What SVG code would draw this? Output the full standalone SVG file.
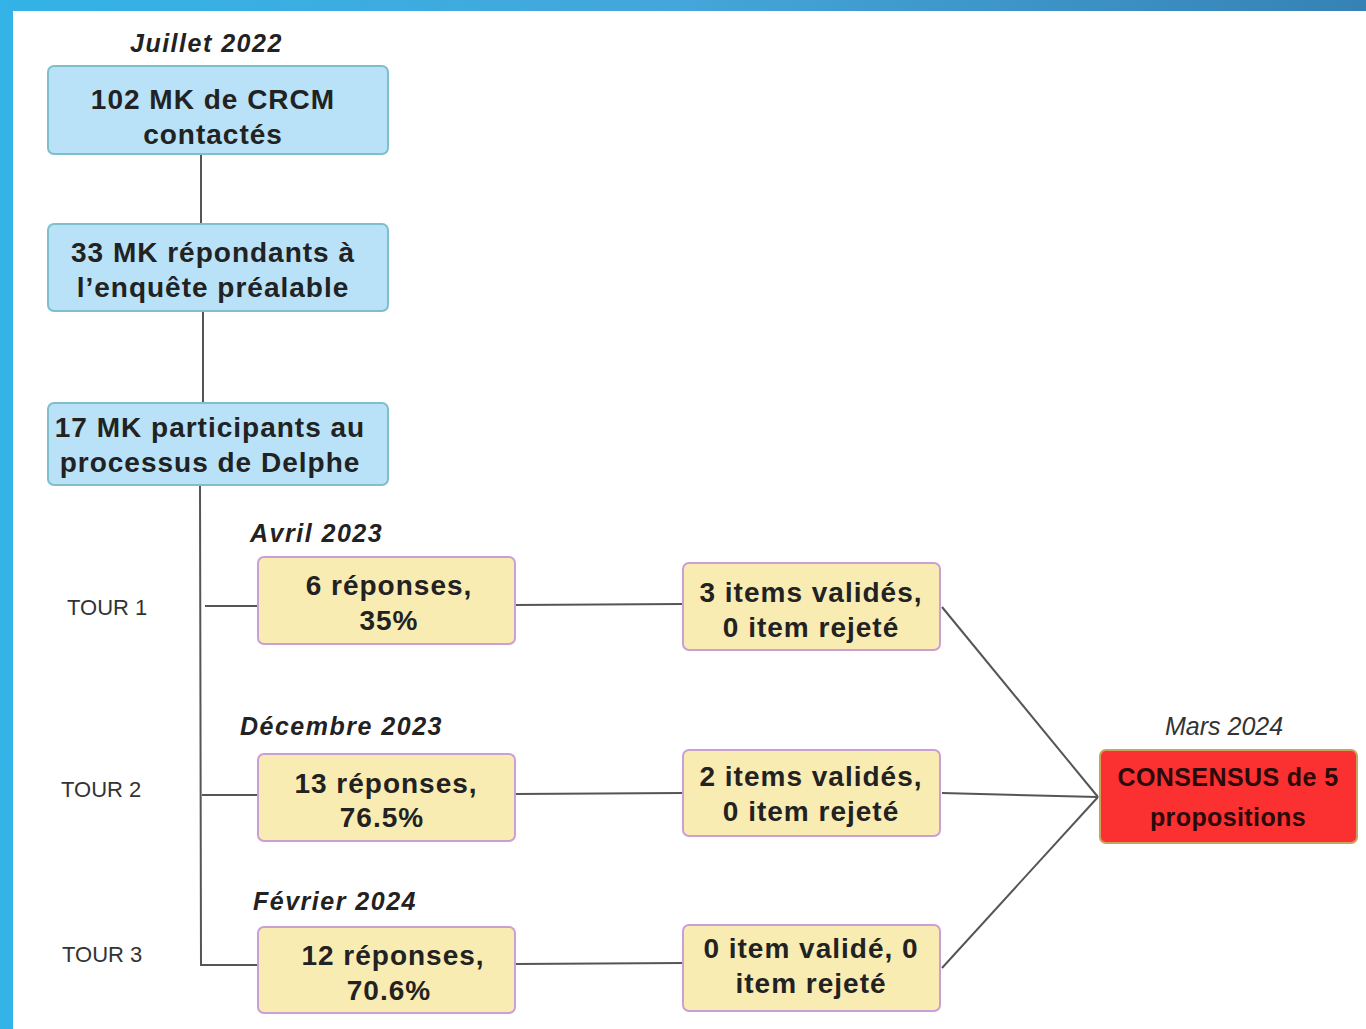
<svg xmlns="http://www.w3.org/2000/svg" width="1366" height="1029" viewBox="0 0 1366 1029">
<defs>
<linearGradient id="bg" x1="0" y1="0" x2="1" y2="0">
<stop offset="0" stop-color="#33b3e7"/>
<stop offset="0.5" stop-color="#44a6da"/>
<stop offset="1" stop-color="#3682b5"/>
</linearGradient>
<style>
.blue{fill:#b9e1f7;stroke:#7fbfcc;stroke-width:2}
.yel{fill:#f9ecb3;stroke:#c99fd6;stroke-width:2}
.red{fill:#fb3030;stroke:#c9a25e;stroke-width:2}
.t{font-family:"Liberation Sans",Arial,sans-serif;font-weight:bold;font-size:28px;fill:#222;text-anchor:middle;letter-spacing:1px}
.d{font-family:"Liberation Sans",Arial,sans-serif;font-weight:bold;font-style:italic;font-size:25px;fill:#222;letter-spacing:1.5px}
.m{font-family:"Liberation Sans",Arial,sans-serif;font-style:italic;font-size:25px;fill:#333}
.tour{font-family:"Liberation Sans",Arial,sans-serif;font-size:22px;fill:#333;letter-spacing:0px}
.c{font-family:"Liberation Sans",Arial,sans-serif;font-weight:bold;font-size:25px;fill:#2a0a0a;text-anchor:middle;letter-spacing:0.4px}
.ln{stroke:#555;stroke-width:2;fill:none}
</style>
</defs>
<rect x="0" y="0" width="1366" height="1029" fill="url(#bg)"/>
<rect x="13" y="11" width="1353" height="1018" fill="#ffffff"/>

<g id="connectors">
<line class="ln" x1="201" y1="154" x2="201" y2="224"/>
<line class="ln" x1="203" y1="311" x2="203" y2="403"/>
<polyline class="ln" points="200,485 201,965 258,965"/>
<line class="ln" x1="205" y1="606" x2="258" y2="606"/>
<line class="ln" x1="202" y1="795" x2="258" y2="795"/>
<line class="ln" x1="515" y1="605" x2="683" y2="604"/>
<line class="ln" x1="515" y1="794" x2="683" y2="793"/>
<line class="ln" x1="515" y1="964" x2="683" y2="963"/>
<line class="ln" x1="942" y1="607" x2="1098" y2="797"/>
<line class="ln" x1="942" y1="793" x2="1098" y2="797"/>
<line class="ln" x1="942" y1="968" x2="1098" y2="797"/>
</g>

<g id="labels">
<text class="d" x="130" y="52">Juillet 2022</text>
<text class="d" x="250" y="542">Avril 2023</text>
<text class="d" x="240" y="735">Décembre 2023</text>
<text class="d" x="253" y="910">Février 2024</text>
<text class="m" x="1165" y="735">Mars 2024</text>
<text class="tour" x="67" y="615">TOUR 1</text>
<text class="tour" x="61" y="797">TOUR 2</text>
<text class="tour" x="62" y="962">TOUR 3</text>
</g>

<g id="n1">
<rect class="blue" x="48" y="66" width="340" height="88" rx="6"/>
<text class="t" x="213" y="109">102 MK de CRCM</text>
<text class="t" x="213" y="144">contactés</text>
</g>
<g id="n2">
<rect class="blue" x="48" y="224" width="340" height="87" rx="6"/>
<text class="t" x="213" y="262">33 MK répondants à</text>
<text class="t" x="213" y="297">l’enquête préalable</text>
</g>
<g id="n3">
<rect class="blue" x="48" y="403" width="340" height="82" rx="6"/>
<text class="t" x="210" y="437">17 MK participants au</text>
<text class="t" x="210" y="472">processus de Delphe</text>
</g>

<g id="a1">
<rect class="yel" x="258" y="557" width="257" height="87" rx="6"/>
<text class="t" x="389" y="595">6 réponses,</text>
<text class="t" x="389" y="630">35%</text>
</g>
<g id="a2">
<rect class="yel" x="258" y="754" width="257" height="87" rx="6"/>
<text class="t" x="386" y="793">13 réponses,</text>
<text class="t" x="382" y="827">76.5%</text>
</g>
<g id="a3">
<rect class="yel" x="258" y="927" width="257" height="86" rx="6"/>
<text class="t" x="393" y="965">12 réponses,</text>
<text class="t" x="389" y="1000">70.6%</text>
</g>

<g id="b1">
<rect class="yel" x="683" y="563" width="257" height="87" rx="6"/>
<text class="t" x="811" y="602">3 items validés,</text>
<text class="t" x="811" y="637">0 item rejeté</text>
</g>
<g id="b2">
<rect class="yel" x="683" y="750" width="257" height="86" rx="6"/>
<text class="t" x="811" y="786">2 items validés,</text>
<text class="t" x="811" y="821">0 item rejeté</text>
</g>
<g id="b3">
<rect class="yel" x="683" y="925" width="257" height="86" rx="6"/>
<text class="t" x="811" y="958">0 item validé, 0</text>
<text class="t" x="811" y="993">item rejeté</text>
</g>

<g id="consensus">
<rect class="red" x="1100" y="750" width="257" height="93" rx="6"/>
<text class="c" x="1228" y="786">CONSENSUS de 5</text>
<text class="c" x="1228" y="826">propositions</text>
</g>
</svg>
